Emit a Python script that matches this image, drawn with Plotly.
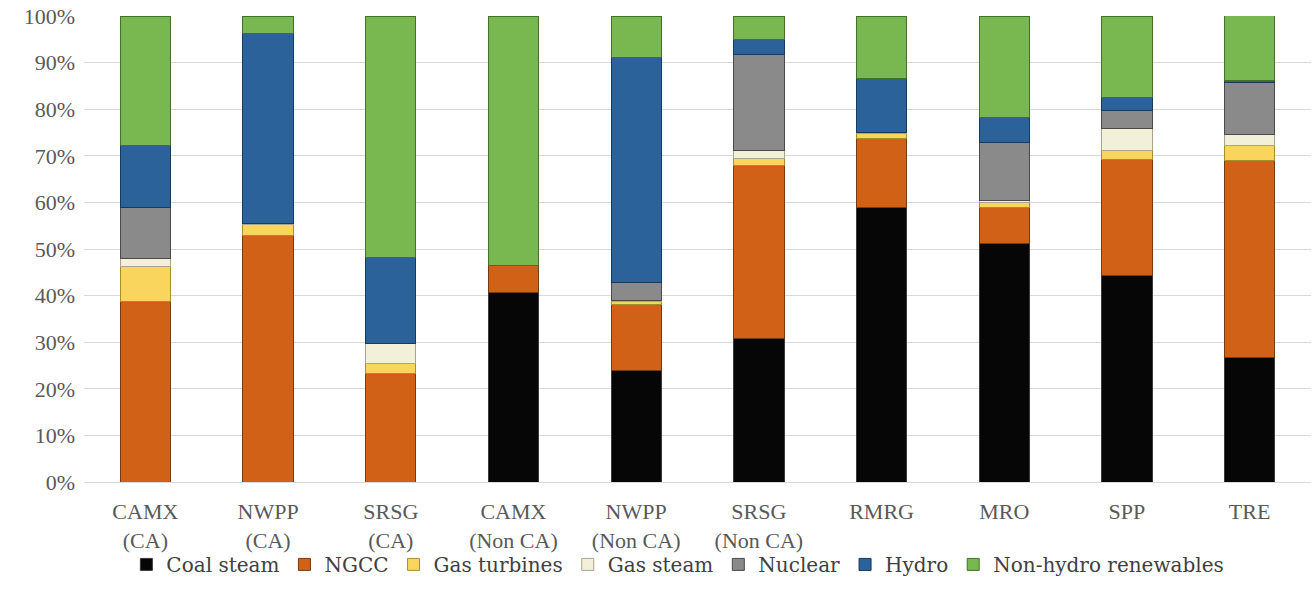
import plotly.graph_objects as go

regions = ["CAMX<br>(CA)", "NWPP<br>(CA)", "SRSG<br>(CA)", "CAMX<br>(Non CA)", "NWPP<br>(Non CA)",
           "SRSG<br>(Non CA)", "RMRG", "MRO", "SPP", "TRE"]

# Generation share by technology, percent of each region's total
coal_steam = [0.0, 0.0, 0.0, 40.7, 24.0, 30.9, 59.0, 51.1, 44.4, 26.8]
ngcc = [38.7, 53.0, 23.3, 5.7, 14.0, 37.1, 14.8, 7.7, 24.7, 42.1]
gas_turbines = [7.5, 2.3, 2.2, 0.0, 0.8, 1.5, 1.0, 1.2, 2.1, 3.4]
gas_steam = [1.8, 0.2, 4.3, 0.0, 0.2, 1.7, 0.3, 0.5, 4.7, 2.2]
nuclear = [11.0, 0.0, 0.0, 0.0, 3.8, 20.6, 0.0, 12.3, 3.9, 11.3]
hydro = [13.3, 40.8, 18.3, 0.0, 48.2, 3.2, 11.4, 5.5, 2.8, 0.3]
non_hydro_renewables = [27.7, 3.7, 51.9, 53.6, 9.0, 5.0, 13.5, 21.7, 17.4, 14.0]

series = [
    ("Coal steam", coal_steam, "#060606", "#3a3a3a"),
    ("NGCC", ngcc, "#D16116", "#7a3a0e"),
    ("Gas turbines", gas_turbines, "#F9D55E", "#a88d2c"),
    ("Gas steam", gas_steam, "#F3F0DA", "#a9a58c"),
    ("Nuclear", nuclear, "#8A8A8A", "#4a4a4a"),
    ("Hydro", hydro, "#2B629A", "#173a5e"),
    ("Non-hydro renewables", non_hydro_renewables, "#79B850", "#44702a"),
]

fig = go.Figure()
for name, vals, color, edge in series:
    fig.add_trace(go.Bar(
        x=regions, y=vals, name=name,
        marker=dict(color=color, line=dict(color=edge, width=1)),
    ))

serif = "Liberation Serif"

fig.update_layout(
    template="none",
    barmode="stack",
    bargap=0.59,
    width=1314, height=608,
    margin=dict(l=84, r=3, t=16, b=126, autoexpand=False),
    paper_bgcolor="white",
    plot_bgcolor="white",
    font=dict(family=serif, size=22, color="#595959"),
    legend=dict(
        orientation="h",
        traceorder="normal",
        x=0.484, xanchor="center",
        y=-0.135, yanchor="top",
        bgcolor="rgba(0,0,0,0)",
        font=dict(family="DejaVu Serif", size=20, color="#404040"),
        itemwidth=30,
    ),
    showlegend=True,
)

fig.update_yaxes(
    range=[0, 100],
    tickvals=[0, 10, 20, 30, 40, 50, 60, 70, 80, 90, 100],
    ticktext=[f"{v}%" for v in range(0, 101, 10)],
    showgrid=True, gridcolor="#D9D9D9", gridwidth=1,
    zeroline=False,
    showline=False,
    ticks="",
    ticklabelstandoff=8,
    tickfont=dict(family=serif, size=22, color="#595959"),
)

fig.update_xaxes(
    showline=True, linecolor="#D9D9D9", linewidth=1,
    showgrid=False,
    ticks="",
    ticklabelstandoff=10,
    tickfont=dict(family=serif, size=22, color="#595959"),
)

fig.write_html("out.html")
